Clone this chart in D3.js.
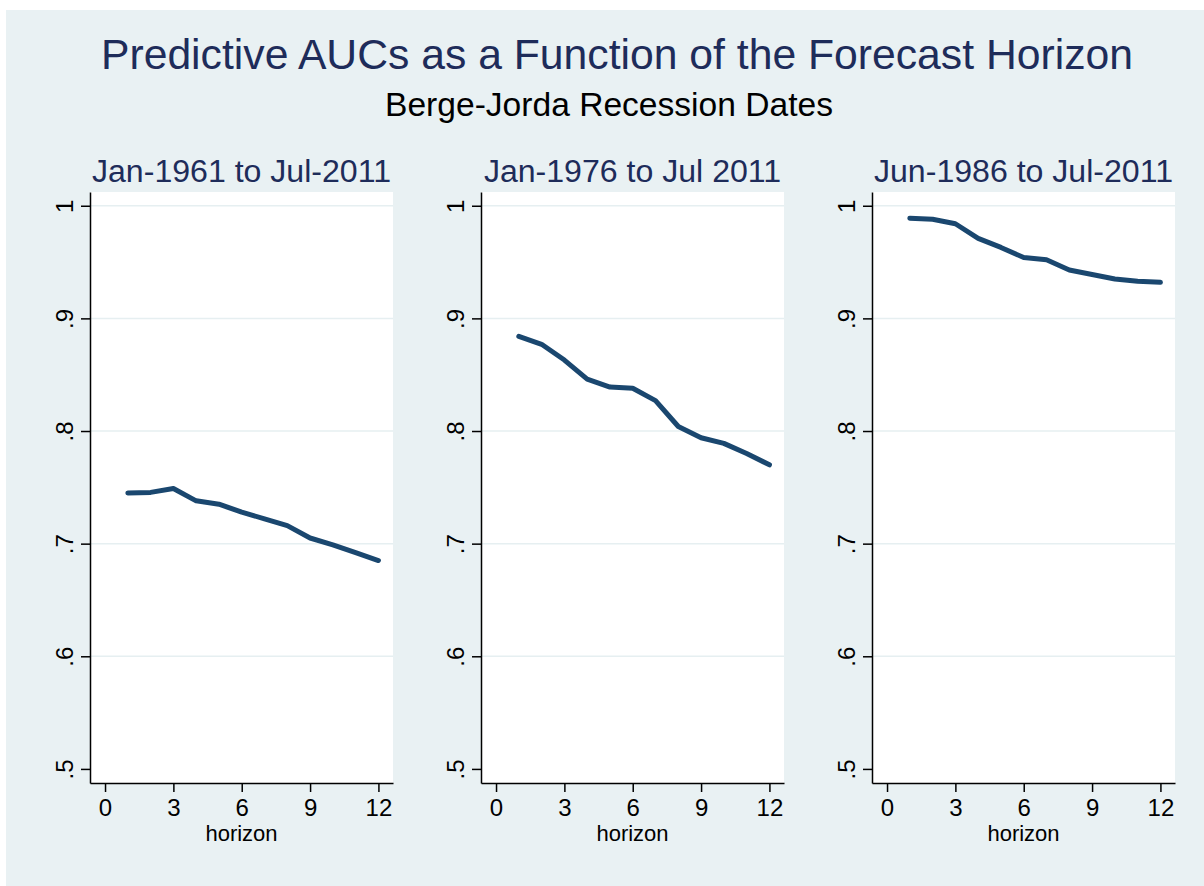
<!DOCTYPE html>
<html>
<head>
<meta charset="utf-8">
<script src="https://cdn.jsdelivr.net/npm/d3@7"></script>
<style>
  body { margin: 0; background: #ffffff; }
  svg { display: block; font-family: "Liberation Sans", Arial, sans-serif; }
</style>
</head>
<body>
<svg id="chart" width="1204" height="886"></svg>
<script>
// data
var horizons = [1, 2, 3, 4, 5, 6, 7, 8, 9, 10, 11, 12];
var panelTitles = ["Jan-1961 to Jul-2011", "Jan-1976 to Jul 2011", "Jun-1986 to Jul-2011"];
var auc1961 = [0.745, 0.7455, 0.749, 0.738, 0.735, 0.728, 0.722, 0.716, 0.705, 0.699, 0.692, 0.685];
var auc1976 = [0.884, 0.877, 0.863, 0.846, 0.839, 0.838, 0.827, 0.804, 0.794, 0.789, 0.780, 0.770];
var auc1986 = [0.989, 0.988, 0.984, 0.971, 0.963, 0.954, 0.952, 0.943, 0.939, 0.935, 0.933, 0.932];
var yTicks = [0.5, 0.6, 0.7, 0.8, 0.9, 1];
var yTickLabels = [".5", ".6", ".7", ".8", ".9", "1"];
var xTicks = [0, 3, 6, 9, 12];
var gridTicks = [0.6, 0.7, 0.8, 0.9, 1];

var seriesList = [auc1961, auc1976, auc1986];

var svg = d3.select("#chart");

var bg_colour = "#e9f1f3";
var title_colour = "#1e2c5a";
var line_colour = "#1a476f";

// outer graph region
svg.append("rect")
    .attr("x", 6).attr("y", 10)
    .attr("width", 1198).attr("height", 876)
    .attr("fill", bg_colour);

// main title and subtitle
svg.append("text")
    .attr("x", 617).attr("y", 69)
    .attr("text-anchor", "middle")
    .attr("font-size", 42.7)
    .attr("fill", title_colour)
    .text("Predictive AUCs as a Function of the Forecast Horizon");

svg.append("text")
    .attr("x", 609).attr("y", 116)
    .attr("text-anchor", "middle")
    .attr("font-size", 33.6)
    .attr("fill", "#000")
    .text("Berge-Jorda Recession Dates");

var plotTop = 192;
var plotWidth = 303;
var plotHeight = 591;
var panelLeft = [90, 481, 872];

var x = d3.scaleLinear().domain([-0.66, 12.64]).range([0, plotWidth]);
var y = d3.scaleLinear().domain([0.4875, 1.0122]).range([plotHeight, 0]);

seriesList.forEach(function(values, i)
{
    var g = svg.append("g")
        .attr("transform", "translate(" + panelLeft[i] + "," + plotTop + ")");

    // white plot region
    g.append("rect")
        .attr("width", plotWidth).attr("height", plotHeight)
        .attr("fill", "#fff");

    // panel title
    g.append("text")
        .attr("x", plotWidth / 2).attr("y", -10)
        .attr("text-anchor", "middle")
        .attr("font-size", 32.1)
        .attr("fill", title_colour)
        .text(panelTitles[i]);

    // grid lines
    g.selectAll(".grid")
        .data(gridTicks)
        .enter().append("line")
        .attr("x1", 0).attr("x2", plotWidth)
        .attr("y1", function(d) { return y(d); })
        .attr("y2", function(d) { return y(d); })
        .attr("stroke", "#e6eff1")
        .attr("stroke-width", 1.5);

    // y axis
    var yAxis = g.append("g")
        .call(d3.axisLeft(y)
            .tickValues(yTicks)
            .tickSize(9)
            .tickSizeOuter(0)
            .tickPadding(0)
            .tickFormat(function(d, k) { return yTickLabels[k]; }));
    yAxis.select(".domain").attr("stroke", "#000").attr("stroke-width", 1.5);
    yAxis.selectAll(".tick line").attr("stroke", "#000").attr("stroke-width", 1.5);
    yAxis.selectAll(".tick text")
        .attr("font-size", 24)
        .attr("fill", "#000")
        .attr("font-family", null)
        .attr("x", null).attr("dy", null)
        .attr("text-anchor", "middle")
        .attr("transform", "translate(-17,0) rotate(-90)");

    // x axis
    var xAxis = g.append("g")
        .attr("transform", "translate(0," + plotHeight + ")")
        .call(d3.axisBottom(x)
            .tickValues(xTicks)
            .tickSize(9)
            .tickSizeOuter(0)
            .tickPadding(0));
    xAxis.select(".domain").attr("stroke", "#000").attr("stroke-width", 1.5);
    xAxis.selectAll(".tick line").attr("stroke", "#000").attr("stroke-width", 1.5);
    xAxis.selectAll(".tick text")
        .attr("font-size", 24)
        .attr("fill", "#000")
        .attr("font-family", null)
        .attr("dy", null)
        .attr("y", 33);

    g.append("text")
        .attr("x", plotWidth / 2).attr("y", plotHeight + 58)
        .attr("text-anchor", "middle")
        .attr("font-size", 22)
        .attr("fill", "#000")
        .text("horizon");

    // the AUC line
    var line = d3.line()
        .x(function(d, k) { return x(horizons[k]); })
        .y(function(d) { return y(d); });

    g.append("path")
        .datum(values)
        .attr("d", line)
        .attr("fill", "none")
        .attr("stroke", line_colour)
        .attr("stroke-width", 5)
        .attr("stroke-linejoin", "round")
        .attr("stroke-linecap", "round");
});
</script>
</body>
</html>
